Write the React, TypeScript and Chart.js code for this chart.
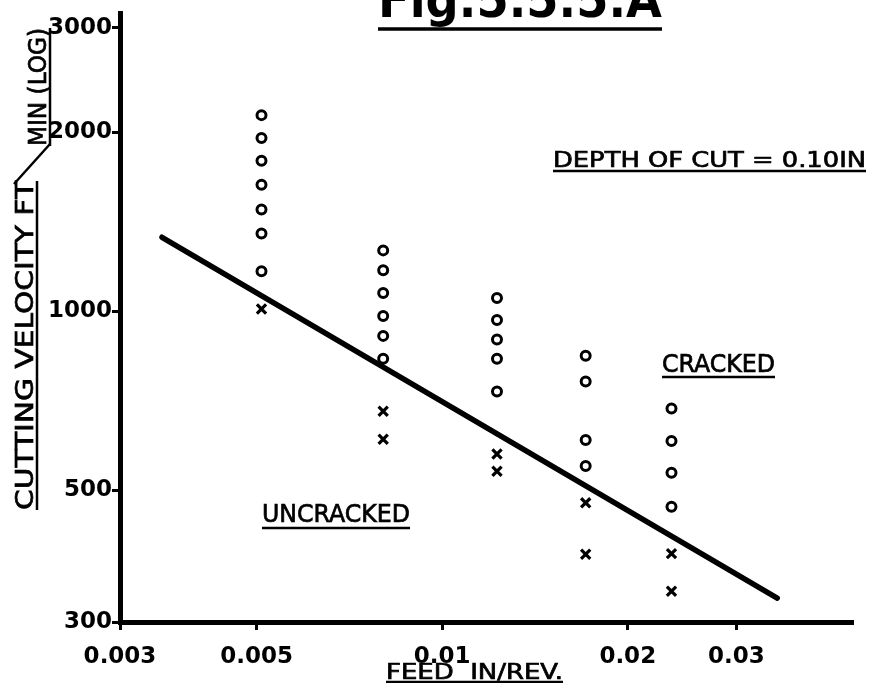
import React, { useEffect, useRef } from "react";
import { Chart, registerables } from "chart.js";

Chart.register(...registerables);

// ---- data ----
const feedColumns = [0.00509, 0.00802, 0.01227, 0.01709, 0.02355];
const crackedVelocities = [
  [2138, 1956, 1791, 1632, 1483, 1352, 1168],
  [1266, 1172, 1073, 982, 909, 832],
  [1053, 967, 896, 832, 733],
  [842, 762, 607, 549],
  [686, 605, 535, 469],
];
const uncrackedVelocities = [[1009], [679, 609], [575, 538], [476, 390], [391, 338]];
const boundaryFeed = [0.00351, 0.03496];
const boundaryVelocity = [1332, 329];
const xTicks = [0.003, 0.005, 0.01, 0.02, 0.03];
const xTickLabels = ["0.003", "0.005", "0.01", "0.02", "0.03"];
const yTicks = [300, 500, 1000, 2000, 3000];
const yTickLabels = ["300", "500", "1000", "2000", "3000"];

const FONT = '"DejaVu Sans", "Liberation Sans", sans-serif';

type Run = {
  text: string;
  x: number;
  y: number;
  len: number;
  size: number;
  weight?: string;
  vertical?: boolean;
  ul?: number;
  ulw?: number;
};

const runs: Run[] = [
  { text: "Fig.5.5.5.A", x: 378, y: 17, len: 284, size: 50, weight: "bold", ul: 12, ulw: 3.5 },
  { text: "DEPTH OF CUT = 0.10IN", x: 553, y: 167, len: 313, size: 22, ul: 4, ulw: 2.5 },
  { text: "CRACKED", x: 662, y: 372, len: 113, size: 24, ul: 5, ulw: 2.5 },
  { text: "UNCRACKED", x: 262, y: 522, len: 148, size: 24, ul: 6, ulw: 2.5 },
  { text: "FEED  IN/REV.", x: 386, y: 679, len: 177, size: 21, ul: 3, ulw: 2.5 },
  { text: "CUTTING VELOCITY FT", x: 33, y: 510, len: 329, size: 24, vertical: true, ul: 4, ulw: 2.5 },
  { text: "MIN (LOG)", x: 46, y: 146, len: 118, size: 24, vertical: true, ul: 4, ulw: 2.5 },
];

const annotations = {
  id: "annotations",
  afterDraw(chart: any) {
    const ctx: CanvasRenderingContext2D = chart.ctx;
    ctx.save();
    ctx.fillStyle = "#000";
    ctx.strokeStyle = "#000";
    for (const r of runs) {
      ctx.save();
      ctx.font = `${r.weight || "normal"} ${r.size}px ${FONT}`;
      const w = ctx.measureText(r.text).width;
      ctx.translate(r.x, r.y);
      if (r.vertical) ctx.rotate(-Math.PI / 2);
      ctx.save();
      ctx.scale(r.len / w, 1);
      ctx.textBaseline = "alphabetic";
      ctx.fillText(r.text, 0, 0);
      if (!r.weight) {
        // slight stroke to thicken regular glyphs like pen lettering
        ctx.lineWidth = 0.7;
        ctx.strokeText(r.text, 0, 0);
      }
      ctx.restore();
      if (r.ul) {
        ctx.lineWidth = r.ulw || 2.5;
        ctx.beginPath();
        ctx.moveTo(0, r.ul);
        ctx.lineTo(r.len, r.ul);
        ctx.stroke();
      }
      ctx.restore();
    }
    // slash between FT and MIN
    ctx.lineWidth = 2.5;
    ctx.beginPath();
    ctx.moveTo(14, 184);
    ctx.lineTo(50, 144);
    ctx.stroke();
    ctx.restore();
  },
};

export default function App() {
  const ref = useRef<HTMLCanvasElement>(null);

  useEffect(() => {
    if (!ref.current) return;
    const cracked: { x: number; y: number }[] = [];
    const uncracked: { x: number; y: number }[] = [];
    feedColumns.forEach((f, i) => {
      crackedVelocities[i].forEach((v) => cracked.push({ x: f, y: v }));
      uncrackedVelocities[i].forEach((v) => uncracked.push({ x: f, y: v }));
    });
    const boundary = boundaryFeed.map((f, i) => ({ x: f, y: boundaryVelocity[i] }));

    const tickFont = { family: FONT, size: 23, weight: "bold" as const };

    const chart = new Chart(ref.current, {
      type: "scatter",
      data: {
        datasets: [
          {
            label: "Cracked",
            data: cracked,
            pointStyle: "circle",
            pointRadius: 4.5,
            pointBorderWidth: 3,
            borderColor: "#000",
            backgroundColor: "#fff",
          },
          {
            label: "Uncracked",
            data: uncracked,
            pointStyle: "crossRot",
            pointRadius: 6.5,
            pointBorderWidth: 3.2,
            borderColor: "#000",
            backgroundColor: "#000",
          },
          {
            type: "line",
            label: "Boundary",
            data: boundary,
            borderColor: "#000",
            borderWidth: 5.5,
            pointRadius: 0,
            borderCapStyle: "round",
            fill: false,
          } as any,
        ],
      },
      options: {
        responsive: false,
        animation: false,
        devicePixelRatio: 1,
        layout: { padding: { top: 10, right: 20, left: 0, bottom: 0 } },
        plugins: { legend: { display: false }, tooltip: { enabled: false } },
        scales: {
          x: {
            type: "logarithmic",
            min: 0.003,
            max: 0.0464,
            afterBuildTicks: (s: any) => {
              s.ticks = xTicks.map((v) => ({ value: v }));
            },
            afterFit: (s: any) => {
              s.height = 61;
            },
            ticks: {
              autoSkip: false,
              maxRotation: 0,
              minRotation: 0,
              padding: 13,
              color: "#000",
              font: tickFont,
              callback: (v: any) => {
                const i = xTicks.findIndex((t) => Math.abs(t - v) < 1e-9);
                return i >= 0 ? xTickLabels[i] : "";
              },
            },
            grid: {
              display: true,
              drawOnChartArea: false,
              drawTicks: true,
              tickLength: 8,
              tickWidth: 3,
              color: "#000",
            },
            border: { display: true, width: 5, color: "#000" },
          },
          y: {
            type: "logarithmic",
            min: 300,
            max: 3166,
            afterBuildTicks: (s: any) => {
              s.ticks = yTicks.map((v) => ({ value: v }));
            },
            afterFit: (s: any) => {
              s.width = 120;
            },
            ticks: {
              autoSkip: false,
              padding: 0,
              color: "#000",
              font: tickFont,
              callback: (v: any) => {
                const i = yTicks.findIndex((t) => Math.abs(t - v) < 1e-6);
                return i >= 0 ? yTickLabels[i] : "";
              },
            },
            grid: {
              display: true,
              drawOnChartArea: false,
              drawTicks: true,
              tickLength: 8,
              tickWidth: 3,
              color: "#000",
            },
            border: { display: true, width: 5, color: "#000" },
          },
        },
      },
      plugins: [annotations],
    });
    return () => chart.destroy();
  }, []);

  return (
    <div
      style={{
        position: "absolute",
        left: 0,
        top: 0,
        width: 873,
        height: 683,
        background: "#fff",
        overflow: "hidden",
      }}
    >
      <canvas ref={ref} width={873} height={683} style={{ display: "block" }} />
    </div>
  );
}
